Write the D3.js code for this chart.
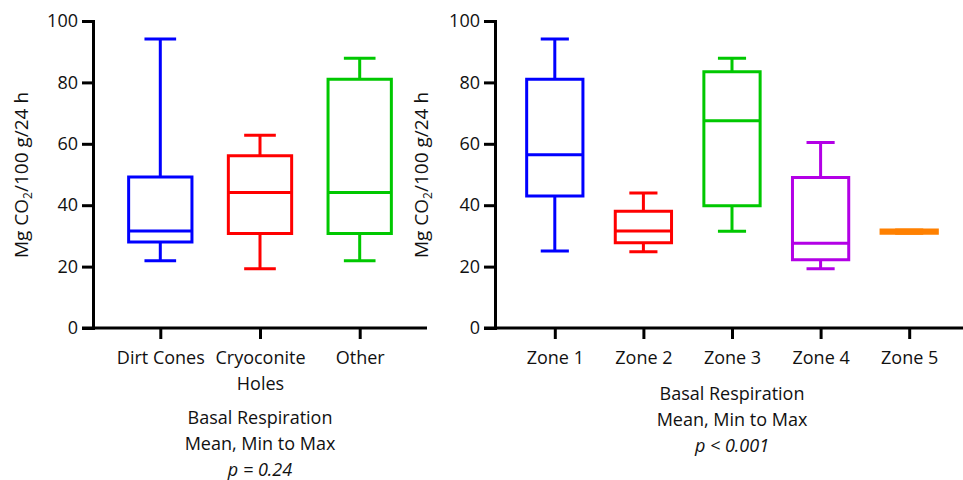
<!DOCTYPE html>
<html>
<head>
<meta charset="utf-8">
<script src="https://cdn.jsdelivr.net/npm/d3@7"></script>
<style>
  body { margin: 0; background: #fff; }
  text { font-family: "Open Sans", "Noto Sans", sans-serif; fill: #111; }
</style>
</head>
<body>
<div id="chart"></div>
<script>
// Data (min, Q1, median, Q3, max)
var siteNames = ["Dirt Cones", "Cryoconite Holes", "Other"];
var siteMin = [21.9, 19.3, 21.9];
var siteQ1 = [28.0, 30.8, 30.8];
var siteMed = [31.6, 44.1, 44.1];
var siteQ3 = [49.2, 56.1, 81.0];
var siteMax = [94.1, 62.8, 87.9];

var zoneNames = ["Zone 1", "Zone 2", "Zone 3", "Zone 4", "Zone 5"];
var zoneMin = [25.1, 24.8, 31.5, 19.3, 30.9];
var zoneQ1 = [43.0, 27.8, 39.8, 22.2, 30.9];
var zoneMed = [56.4, 31.6, 67.5, 27.6, 31.4];
var zoneQ3 = [81.0, 38.0, 83.5, 49.0, 31.9];
var zoneMax = [94.1, 44.0, 87.9, 60.4, 31.9];

var yTicks = [0, 20, 40, 60, 80, 100];
var leftTitle = ["Basal Respiration", "Mean, Min to Max", "p = 0.24"];
var rightTitle = ["Basal Respiration", "Mean, Min to Max", "p < 0.001"];

var siteColors = ["#0000ff", "#ff0000", "#00c800"];
var zoneColors = ["#0000ff", "#ff0000", "#00c800", "#b300e6", "#ff8000"];

var svg = d3.select("#chart").append("svg")
  .attr("width", 963).attr("height", 480);

var y = d3.scaleLinear().domain([0, 100]).range([328, 21]);

function panel(opts) {
  var g = svg.append("g");
  var x = d3.scalePoint().domain(opts.names).range([opts.x0, opts.x1]).padding(0.675);
  var step = x.step();
  var boxW = step * 0.635;
  var tick = 11;

  // y axis
  var ya = g.append("g").attr("transform", "translate(" + opts.x0 + ",0)")
    .call(d3.axisLeft(y).tickValues(yTicks).tickSize(tick).tickSizeOuter(0).tickPadding(4));
  ya.select(".domain").attr("stroke", "#000").attr("stroke-width", 3).attr("stroke-linecap", "square");
  ya.selectAll(".tick line").attr("stroke", "#000").attr("stroke-width", 3);
  ya.selectAll(".tick text").style("font-size", "18px").attr("fill", "#111");

  // x axis line (runs out to the left tick length)
  g.append("line")
    .attr("x1", opts.x0 - tick).attr("x2", opts.x1)
    .attr("y1", y(0)).attr("y2", y(0))
    .attr("stroke", "#000").attr("stroke-width", 3);

  var xa = g.append("g").attr("transform", "translate(0," + y(0) + ")")
    .call(d3.axisBottom(x).tickSize(tick).tickSizeOuter(0).tickPadding(12));
  xa.select(".domain").remove();
  xa.selectAll(".tick line").attr("stroke", "#000").attr("stroke-width", 3);
  xa.selectAll(".tick text").style("font-size", "18px").attr("fill", "#111")
    .each(function (d) {
      var t = d3.select(this);
      var words = d.split(" ");
      if (d === "Cryoconite Holes") {
        t.text(null);
        t.append("tspan").attr("x", 0).text(words[0]);
        t.append("tspan").attr("x", 0).attr("dy", 26).text(words[1]);
      }
    });

  // boxes
  var boxes = g.append("g").selectAll("g")
    .data(opts.names.map(function (n, i) {
      return { name: n, min: opts.min[i], q1: opts.q1[i], med: opts.med[i], q3: opts.q3[i], max: opts.max[i], color: opts.colors[i] };
    }))
    .enter().append("g")
    .attr("stroke", function (d) { return d.color; })
    .attr("stroke-width", 3)
    .attr("fill", "none");

  boxes.append("path").attr("d", function (d) {
    var cx = x(d.name);
    return "M" + cx + "," + y(d.q3) + "V" + y(d.max) +
      "M" + (cx - boxW / 4) + "," + y(d.max) + "H" + (cx + boxW / 4) +
      "M" + cx + "," + y(d.q1) + "V" + y(d.min) +
      "M" + (cx - boxW / 4) + "," + y(d.min) + "H" + (cx + boxW / 4);
  });
  boxes.append("path").attr("d", function (d) {
    var l = x(d.name) - boxW / 2, r = x(d.name) + boxW / 2;
    return "M" + l + "," + y(d.q1) + "H" + r + "V" + y(d.q3) + "H" + l + "Z" +
      "M" + l + "," + y(d.med) + "H" + r;
  });

  // title below
  var tx = x(opts.names[Math.floor(opts.names.length / 2)]);
  opts.title.forEach(function (line, i) {
    g.append("text")
      .attr("x", tx).attr("y", opts.titleY + i * 26)
      .attr("text-anchor", "middle")
      .style("font-size", "18px")
      .style("font-style", i === 2 ? "italic" : "normal")
      .text(line);
  });

  // y label
  var lab = g.append("text")
    .attr("transform", "translate(" + opts.labelX + ",175) rotate(-90)")
    .attr("text-anchor", "middle")
    .style("font-size", "19px");
  lab.append("tspan").text("Mg CO");
  lab.append("tspan").style("font-size", "12px").attr("dy", 4).text("2");
  lab.append("tspan").attr("dy", -4).text("/100 g/24 h");
}

panel({ names: siteNames, min: siteMin, q1: siteQ1, med: siteMed, q3: siteQ3, max: siteMax,
  colors: siteColors, x0: 93, x1: 427, title: leftTitle, titleY: 424, labelX: 28 });
panel({ names: zoneNames, min: zoneMin, q1: zoneQ1, med: zoneMed, q3: zoneQ3, max: zoneMax,
  colors: zoneColors, x0: 495, x1: 969, title: rightTitle, titleY: 400, labelX: 428 });
</script>
</body>
</html>
